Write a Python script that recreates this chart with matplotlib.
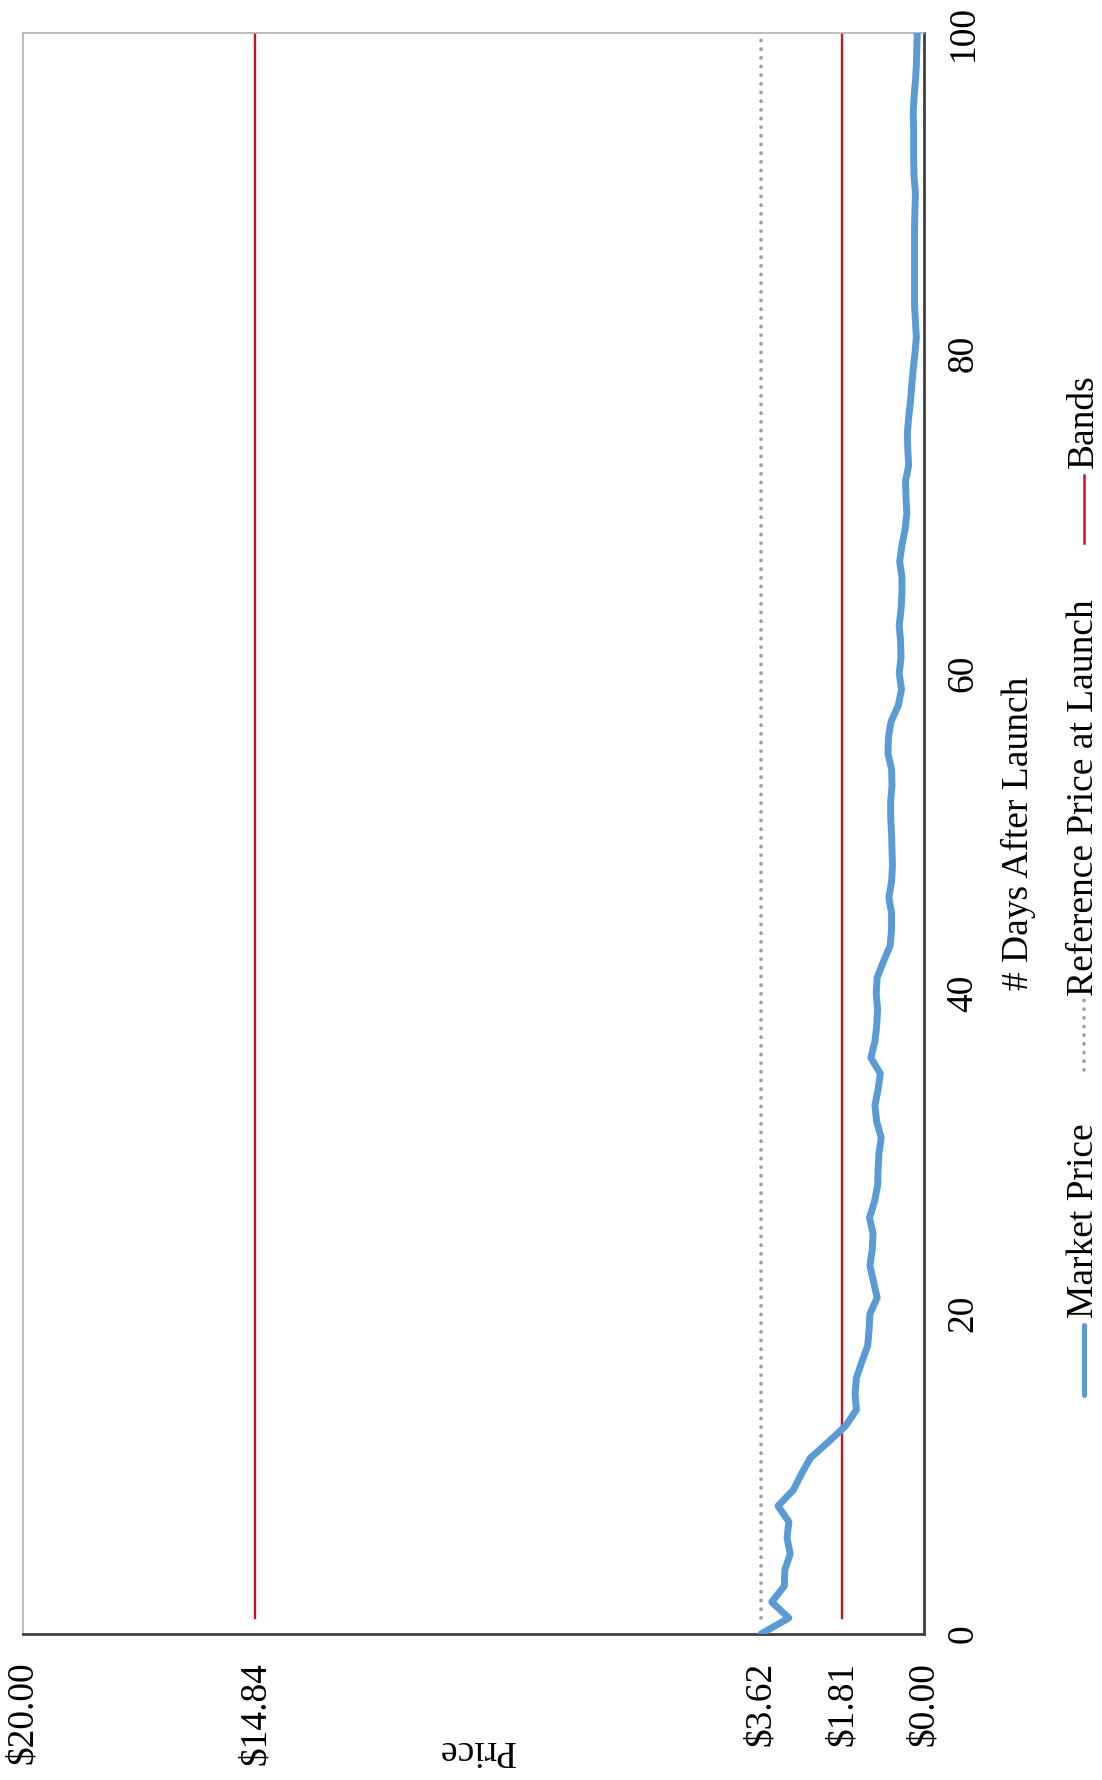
import matplotlib
matplotlib.use("Agg")
import matplotlib.pyplot as plt
from matplotlib.lines import Line2D

# ---------------- data ----------------
days = list(range(0, 101))
market_price = [
    3.62, 3.00, 3.38, 3.10, 3.09, 2.97, 3.04, 3.00, 3.24, 2.90,
    2.72, 2.52, 2.12, 1.74, 1.50, 1.53, 1.50, 1.38, 1.25, 1.22,
    1.20, 1.04, 1.12, 1.20, 1.15, 1.13, 1.21, 1.10, 1.03, 1.02,
    1.00, 0.95, 1.05, 1.09, 1.02, 0.97, 1.18, 1.09, 1.05, 1.03,
    1.06, 1.04, 0.90, 0.75, 0.72, 0.72, 0.78, 0.72, 0.70, 0.71,
    0.72, 0.74, 0.74, 0.71, 0.72, 0.80, 0.79, 0.73, 0.57, 0.50,
    0.55, 0.51, 0.52, 0.55, 0.51, 0.49, 0.49, 0.54, 0.49, 0.42,
    0.38, 0.40, 0.41, 0.34, 0.36, 0.37, 0.34, 0.30, 0.27, 0.24,
    0.20, 0.17, 0.19, 0.21, 0.21, 0.21, 0.21, 0.21, 0.21, 0.20,
    0.19, 0.22, 0.23, 0.23, 0.23, 0.24, 0.22, 0.19, 0.17, 0.16,
    0.15,
]
reference_price = 3.62
band_prices = [1.81, 14.84]
line_days = [1, 100]

price_ticks = [0.00, 1.81, 3.62, 14.84, 20.00]
price_tick_labels = ["$0.00", "$1.81", "$3.62", "$14.84", "$20.00"]
day_ticks = [0, 20, 40, 60, 80, 100]
day_tick_labels = ["0", "20", "40", "60", "80", "100"]

legend_labels = ["Market Price", "Reference Price at Launch", "Bands"]
x_title = "# Days After Launch"
y_title = "Price"

# ---------------- style ----------------
plt.rcParams["font.family"] = ["Liberation Serif", "DejaVu Serif"]
FS = 27
BLUE = "#5B9BD5"
RED = "#C8161E"
GREY_DOT = "#A0A0A0"
DOT_STYLE = (0, (0.1, 2.3))

W, H = 1102, 1780
fig = plt.figure(figsize=(W / 100, H / 100), dpi=100)
L, R, T, B = 23, 924, 33, 1634
ax = fig.add_axes([L / W, 1 - B / H, (R - L) / W, (B - T) / H])

# bands and reference
for bp in band_prices:
    ax.plot([bp, bp], line_days, color=RED, lw=1.7, zorder=2)
ax.plot([reference_price, reference_price], line_days, color=GREY_DOT, lw=2.6,
        linestyle=DOT_STYLE, dash_capstyle="round", zorder=2)
# market price
ax.plot(market_price, days, color=BLUE, lw=5.0, solid_joinstyle="round",
        solid_capstyle="round", zorder=3)

ax.set_xlim(20, 0)
ax.set_ylim(0, 100)

ax.set_xticks(price_ticks)
ax.set_xticklabels(price_tick_labels, rotation=90, va="top", ha="center", fontsize=FS)
ax.tick_params(axis="x", length=0, pad=20)

ax.yaxis.tick_right()
ax.set_yticks(day_ticks)
ax.set_yticklabels(day_tick_labels, rotation=90, va="center", ha="left", fontsize=FS)
ax.tick_params(axis="y", length=0, pad=16)

for s in ("right", "bottom"):
    ax.spines[s].set_color("#404040")
    ax.spines[s].set_linewidth(2.0)
for s in ("left", "top"):
    ax.spines[s].set_color("#B0B0B0")
    ax.spines[s].set_linewidth(1.2)

ax.set_xlabel(y_title, rotation=180, fontsize=FS, va="center", ha="center")
ax.xaxis.set_label_coords((476 - L) / (R - L), -(1750 - B) / (B - T))
ax.yaxis.set_label_position("right")
ax.set_ylabel(x_title, rotation=90, fontsize=FS, va="center", ha="center")
ax.yaxis.set_label_coords((1018 - L) / (R - L), 0.5)

# ---------------- legend (rotated, drawn manually) ----------------
lx = 1084
entries = [
    (legend_labels[0], dict(color=BLUE, lw=3.6, solid_capstyle="round"), 1395, 1325, 1318),
    (legend_labels[1], dict(color=GREY_DOT, lw=2.6, linestyle=DOT_STYLE, dash_capstyle="round"), 1070, 1000, 996),
    (legend_labels[2], dict(color=RED, lw=1.8), 543, 475, 468),
]
for lab, kw, y0, y1, ty in entries:
    fig.add_artist(Line2D([lx / W, lx / W], [1 - y0 / H, 1 - y1 / H],
                          transform=fig.transFigure, **kw))
    fig.text(lx / W, 1 - ty / H, lab, rotation=90, ha="center", va="bottom", fontsize=FS)

fig.savefig("out.png", dpi=100, facecolor="white")
